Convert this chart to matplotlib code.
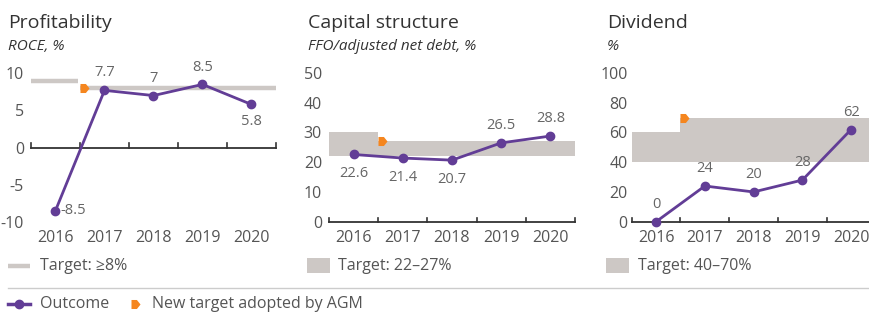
import matplotlib
matplotlib.use("Agg")
import matplotlib.pyplot as plt
import matplotlib.transforms as mtransforms
from matplotlib.path import Path
from matplotlib.patches import Rectangle
from matplotlib.lines import Line2D

plt.rcParams['font.family'] = ['Open Sans', 'DejaVu Sans']

years = ["2016", "2017", "2018", "2019", "2020"]

roce = [-8.5, 7.7, 7, 8.5, 5.8]
ffo = [22.6, 21.4, 20.7, 26.5, 28.8]
dividend = [0, 24, 20, 28, 62]

# targets: (old, new)
roce_target_old = 9
roce_target_new = 8
ffo_band_old = (22, 30)
ffo_band_new = (22, 27)
div_band_old = (40, 60)
div_band_new = (40, 70)

PURPLE = "#623d96"
ORANGE = "#f5861f"
BAND = "#cdc8c5"
TEXT = "#555555"
DARK = "#333333"

W, H = 870, 313
fig = plt.figure(figsize=(W / 100, H / 100), dpi=100)

# flag-shaped marker for "new target" (left edge sits on the anchor point)
flag = Path([(0, -0.5), (0.6, -0.5), (1.0, 0), (0.6, 0.5), (0, 0.5), (0, -0.5)],
            [Path.MOVETO, Path.LINETO, Path.LINETO, Path.LINETO, Path.LINETO, Path.CLOSEPOLY])
FLAG_MS = 13


def px_axes(x0, x1, ytop, ybot):
    return fig.add_axes([x0 / W, 1 - ybot / H, (x1 - x0) / W, (ybot - ytop) / H])


def setup(ax, ylim, yticks, zero_y, pad):
    ax.set_xlim(-0.5, 4.5)
    ax.set_ylim(*ylim)
    for s in ["top", "right", "left", "bottom"]:
        ax.spines[s].set_visible(False)
    ax.set_facecolor("none")
    ax.set_xticks([])
    ax.set_yticks(yticks)
    ax.set_yticklabels([str(t) for t in yticks])
    ax.tick_params(axis="y", length=0, pad=pad, labelsize=11.5, labelcolor=TEXT)
    # axis line with upward ticks at band boundaries
    ax.plot([-0.5, 4.5], [zero_y, zero_y], color=DARK, lw=1.3, zorder=2, clip_on=False)
    span = ylim[1] - ylim[0]
    for b in [-0.5, 0.5, 1.5, 2.5, 3.5, 4.5]:
        ax.plot([b, b], [zero_y, zero_y + span * 0.027], color=DARK, lw=1.2,
                zorder=2, clip_on=False)
    trans = mtransforms.blended_transform_factory(ax.transData, ax.transAxes)
    for i, y in enumerate(years):
        ax.text(i, -0.055, y, transform=trans, ha="center", va="top",
                fontsize=11.5, color=TEXT)


def outcome(ax, vals, offsets):
    ax.plot(range(5), vals, color=PURPLE, lw=2, marker="o", ms=6, zorder=5,
            clip_on=False)
    for i, (v, off) in enumerate(zip(vals, offsets)):
        dx, dy, ha, va = off
        ax.annotate(f"{v:g}", (i, v), xytext=(dx, dy), textcoords="offset pixels",
                    ha=ha, va=va, fontsize=10.5, color="#666666")


def titles(x, title, sub):
    fig.text(x / W, 1 - 28 / H, title, fontsize=14, color=DARK, ha="left", va="baseline")
    fig.text(x / W, 1 - 50 / H, sub, fontsize=11, color=DARK, style="italic",
             ha="left", va="baseline")


# ---- Profitability ----
ax1 = px_axes(31, 276, 73.3, 221.7)
setup(ax1, (-10, 10), [-10, -5, 0, 5, 10], 0, 5)
ax1.plot([-0.5, 0.46], [roce_target_old] * 2, color=BAND, lw=3.2, solid_capstyle="butt", zorder=1)
ax1.plot([0.5, 4.5], [roce_target_new] * 2, color=BAND, lw=3.2, solid_capstyle="butt", zorder=1)
ax1.plot([0.5], [roce_target_new], marker=flag, ms=FLAG_MS, color=ORANGE, mec="none", zorder=4)
outcome(ax1, roce, [(5, 0, "left", "center"), (0, 10, "center", "bottom"),
                    (0, 10, "center", "bottom"), (0, 9, "center", "bottom"),
                    (0, -10, "center", "top")])
titles(8, "Profitability", "ROCE, %")

# ---- Capital structure ----
ax2 = px_axes(329, 575, 73, 221.7)
setup(ax2, (0, 50), [0, 10, 20, 30, 40, 50], 0, 5)
ax2.add_patch(Rectangle((-0.5, ffo_band_old[0]), 1, ffo_band_old[1] - ffo_band_old[0],
                        color=BAND, lw=0, zorder=1))
ax2.add_patch(Rectangle((0.5, ffo_band_new[0]), 4, ffo_band_new[1] - ffo_band_new[0],
                        color=BAND, lw=0, zorder=1))
ax2.plot([0.5], [ffo_band_new[1]], marker=flag, ms=FLAG_MS, color=ORANGE, mec="none", zorder=4)
outcome(ax2, ffo, [(0, -12, "center", "top"), (0, -12, "center", "top"),
                   (0, -12, "center", "top"), (0, 10, "center", "bottom"),
                   (0, 10, "center", "bottom")])
titles(308, "Capital structure", "FFO/adjusted net debt, %")

# ---- Dividend ----
ax3 = px_axes(631.7, 875.5, 73, 221.7)
setup(ax3, (0, 100), [0, 20, 40, 60, 80, 100], 0, 3)
ax3.add_patch(Rectangle((-0.5, div_band_old[0]), 1, div_band_old[1] - div_band_old[0],
                        color=BAND, lw=0, zorder=1))
ax3.add_patch(Rectangle((0.5, div_band_new[0]), 4, div_band_new[1] - div_band_new[0],
                        color=BAND, lw=0, zorder=1))
ax3.plot([0.5], [div_band_new[1]], marker=flag, ms=FLAG_MS, color=ORANGE, mec="none", zorder=4)
outcome(ax3, dividend, [(0, 10, "center", "bottom")] * 5)
titles(607, "Dividend", "%")

# ---- per-panel target legends ----
fig.add_artist(Line2D([8 / W, 30 / W], [1 - 266 / H] * 2, color=BAND, lw=3.2,
                      solid_capstyle="butt"))
fig.text(40 / W, 1 - 266 / H, "Target: \u22658%", fontsize=11.5, color=TEXT, va="center")
fig.add_artist(Rectangle((307 / W, 1 - 273 / H), 23 / W, 15 / H, color=BAND, lw=0))
fig.text(338 / W, 1 - 266 / H, "Target: 22\u201327%", fontsize=11.5, color=TEXT, va="center")
fig.add_artist(Rectangle((606 / W, 1 - 273 / H), 23 / W, 15 / H, color=BAND, lw=0))
fig.text(638 / W, 1 - 266 / H, "Target: 40\u201370%", fontsize=11.5, color=TEXT, va="center")

# separator
fig.add_artist(Line2D([8 / W, 1], [1 - 288 / H] * 2, color="#cccccc", lw=1))

# bottom legend
fig.add_artist(Line2D([8 / W, 30 / W], [1 - 304 / H] * 2, color=PURPLE, lw=2.5))
fig.add_artist(Line2D([19 / W], [1 - 304 / H], color=PURPLE, marker="o", ms=6, lw=0))
fig.text(40 / W, 1 - 304 / H, "Outcome", fontsize=11.5, color=TEXT, va="center")
fig.add_artist(Line2D([131 / W], [1 - 304 / H], color=ORANGE, marker=flag, ms=FLAG_MS, lw=0,
                      mec="none"))
fig.text(152 / W, 1 - 304 / H, "New target adopted by AGM", fontsize=11.5, color=TEXT,
         va="center")

fig.savefig("out.png", dpi=100)
